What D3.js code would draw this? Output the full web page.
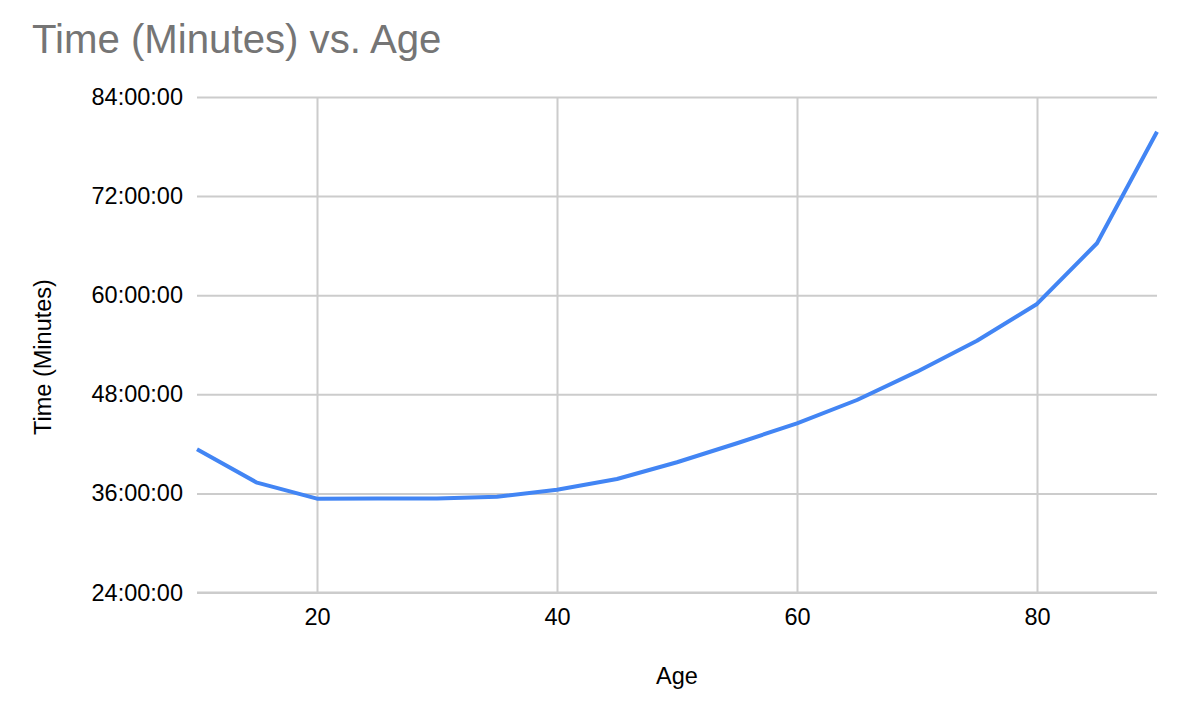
<!DOCTYPE html>
<html>
<head>
<meta charset="utf-8">
<script src="https://cdn.jsdelivr.net/npm/d3@7"></script>
<style>
  body { margin: 0; background: #fff; }
  text { font-family: "Liberation Sans", Arial, sans-serif; }
</style>
</head>
<body>
<svg></svg>
<script>
// ages on x, time in hours on y (shown as hh:00:00)
var ages = [10, 15, 20, 25, 30, 35, 40, 45, 50, 55, 60, 65, 70, 75, 80, 85, 90];
var times = [41.34, 37.3, 35.36, 35.38, 35.38, 35.6, 36.45, 37.74, 39.77, 42.07, 44.49, 47.31, 50.74, 54.49, 58.94, 66.29, 79.8];
var xTicks = [20, 40, 60, 80];
var yTicks = [24, 36, 48, 60, 72, 84];

var svgWidth = 1192;
var svgHeight = 714;
var margin = {top: 97, right: 35, bottom: 121.5, left: 197};

var svg = d3.select('svg')
  .attr('width', svgWidth)
  .attr('height', svgHeight);

var x = d3.scaleLinear().domain([10, 90]).range([margin.left, svgWidth - margin.right]);
var y = d3.scaleLinear().domain([24, 84]).range([svgHeight - margin.bottom, margin.top]);

// horizontal gridlines + labels
var yAxis = d3.axisLeft(y)
  .tickValues(yTicks)
  .tickSize(-(svgWidth - margin.left - margin.right))
  .tickPadding(14)
  .tickFormat(function(d) { return d + ':00:00'; });

svg.append('g')
  .attr('transform', 'translate(' + margin.left + ',0)')
  .call(yAxis)
  .call(function(g) {
    g.select('.domain').remove();
    g.selectAll('line').attr('stroke', '#cccccc').attr('stroke-width', 2);
    g.selectAll('text').attr('fill', '#000').style('font-size', '23.5px')
      .style('font-family', '"Liberation Sans", Arial, sans-serif');
  });

// vertical gridlines + labels
var xAxis = d3.axisBottom(x)
  .tickValues(xTicks)
  .tickSize(-(svgHeight - margin.top - margin.bottom))
  .tickPadding(16)
  .tickFormat(d3.format('d'));

svg.append('g')
  .attr('transform', 'translate(0,' + (svgHeight - margin.bottom) + ')')
  .call(xAxis)
  .call(function(g) {
    g.select('.domain').remove();
    g.selectAll('line').attr('stroke', '#cccccc').attr('stroke-width', 2);
    g.selectAll('text').attr('fill', '#000').style('font-size', '23.5px')
      .style('font-family', '"Liberation Sans", Arial, sans-serif');
  });

// bottom baseline gridline drawn again so it sits over vertical ones
svg.append('line')
  .attr('x1', margin.left).attr('x2', svgWidth - margin.right)
  .attr('y1', y(24)).attr('y2', y(24))
  .attr('stroke', '#cccccc').attr('stroke-width', 2);

// the line
var line = d3.line()
  .x(function(d, i) { return x(ages[i]); })
  .y(function(d) { return y(d); });

svg.append('path')
  .datum(times)
  .attr('d', line)
  .attr('fill', 'none')
  .attr('stroke', '#4285f4')
  .attr('stroke-width', 4)
  .attr('stroke-linejoin', 'round');

// titles
svg.append('text')
  .attr('x', 32)
  .attr('y', 53)
  .attr('fill', '#757575')
  .style('font-size', '40.2px')
  .text('Time (Minutes) vs. Age');

svg.append('text')
  .attr('x', (x(10) + x(90)) / 2)
  .attr('y', 684)
  .attr('text-anchor', 'middle')
  .attr('fill', '#000')
  .style('font-size', '23.5px')
  .text('Age');

svg.append('text')
  .attr('transform', 'translate(51,357) rotate(-90)')
  .attr('text-anchor', 'middle')
  .attr('fill', '#000')
  .style('font-size', '23.5px')
  .text('Time (Minutes)');
</script>
</body>
</html>
